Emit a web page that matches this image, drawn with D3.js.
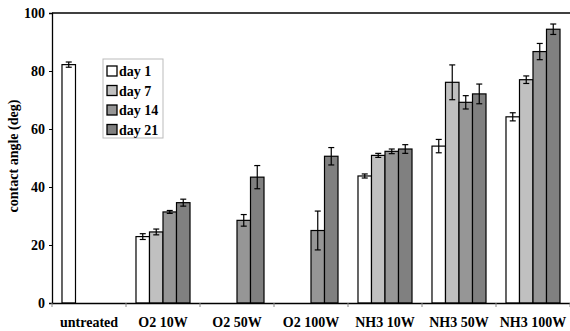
<!DOCTYPE html>
<html><head><meta charset="utf-8">
<script src="https://cdn.jsdelivr.net/npm/d3@7"></script>
<style>body{margin:0;background:#fff}svg{display:block}svg text{font-family:"Liberation Serif","Times New Roman",Times,serif !important;font-weight:bold}</style>
</head><body>
<svg id="c" width="570" height="331"></svg>
<script>
const categories = ["untreated","O2 10W","O2 50W","O2 100W","NH3 10W","NH3 50W","NH3 100W"];
const seriesNames = ["day 1","day 7","day 14","day 21"];
const day1  = [82.2, 22.9, null, null, 43.8, 54.1, 64.2];
const day7  = [null, 24.5, null, null, 50.9, 76.1, 77.0];
const day14 = [null, 31.4, 28.5, 25.0, 52.3, 69.2, 86.7];
const day21 = [null, 34.6, 43.4, 50.6, 53.1, 72.1, 94.4];
const err1  = [0.9, 1.0, null, null, 0.7, 2.3, 1.4];
const err7  = [null, 1.0, null, null, 0.7, 6.0, 1.3];
const err14 = [null, 0.5, 2.0, 6.7, 0.8, 2.3, 2.8];
const err21 = [null, 1.2, 4.0, 3.0, 1.5, 3.4, 1.8];
const yTicks = [0,20,40,60,80,100];
const colors = ["#ffffff","#c0c0c0","#969696","#808080"];

const values = [day1, day7, day14, day21];
const errs = [err1, err7, err14, err21];
const svg = d3.select("#c");
const m = {l:52, r:570, t:13, b:303};
const x = d3.scaleBand().domain(categories).range([m.l, m.r]);
const xi = d3.scaleBand().domain(seriesNames).range([0, x.bandwidth()]).paddingOuter(0.74).paddingInner(0);
const y = d3.scaleLinear().domain([0,100]).range([m.b, m.t]);

// top border
svg.append("line").attr("x1",m.l).attr("x2",m.r).attr("y1",m.t).attr("y2",m.t).attr("stroke","#000").attr("stroke-width",1.3);

// bars
const data = [];
categories.forEach((c,i)=>seriesNames.forEach((s,j)=>{
  if(values[j][i]!=null) data.push({c,s,j,v:values[j][i],e:errs[j][i]});
}));
svg.append("g").selectAll("rect").data(data).join("rect")
  .attr("x",d=>x(d.c)+xi(d.s)).attr("width",xi.bandwidth())
  .attr("y",d=>y(d.v)).attr("height",d=>y(0)-y(d.v))
  .attr("fill",d=>colors[d.j]).attr("stroke","#000").attr("stroke-width",1.2);

// error bars
const eg = svg.append("g").attr("stroke","#000").attr("stroke-width",1.2);
data.forEach(d=>{
  const cx = x(d.c)+xi(d.s)+xi.bandwidth()/2;
  eg.append("line").attr("x1",cx).attr("x2",cx).attr("y1",y(d.v+d.e)).attr("y2",y(d.v-d.e));
  [d.v+d.e,d.v-d.e].forEach(v=>eg.append("line").attr("x1",cx-3).attr("x2",cx+3).attr("y1",y(v)).attr("y2",y(v)));
});

// axes
const ya = svg.append("g").attr("transform",`translate(${m.l},0)`)
  .call(d3.axisLeft(y).tickValues(yTicks).tickSize(3).tickPadding(4));
ya.select(".domain").attr("stroke","#000").attr("stroke-width",1.3);
ya.selectAll("text").attr("font-size",14).attr("fill","#000");

const xa = svg.append("g").attr("transform",`translate(0,${m.b})`)
  .call(d3.axisBottom(x).tickSize(0).tickPadding(14));
xa.select(".domain").attr("stroke","#000").attr("stroke-width",1.3);
xa.selectAll("text").attr("font-size",14).attr("fill","#000");
// category separator ticks
svg.append("g").selectAll("line").data(categories.concat(["_end"])).join("line")
  .attr("x1",(d,i)=>m.l+i*x.bandwidth()).attr("x2",(d,i)=>m.l+i*x.bandwidth())
  .attr("y1",m.b).attr("y2",m.b+4).attr("stroke","#888").attr("stroke-width",1);

// y title
svg.append("text").attr("transform","translate(18,156) rotate(-90)").attr("text-anchor","middle")
  .attr("font-size",14).text("contact angle (deg)");

// legend
const lg = svg.append("g").attr("transform","translate(103,59)");
lg.append("rect").attr("width",60).attr("height",79).attr("fill","#fff").attr("stroke","#bbb").attr("stroke-width",1);
seriesNames.forEach((s,j)=>{
  const yy = 7 + j*19.5;
  lg.append("rect").attr("x",4).attr("y",yy).attr("width",10).attr("height",10)
    .attr("fill",colors[j]).attr("stroke","#000").attr("stroke-width",1.3);
  lg.append("text").attr("x",16).attr("y",yy+10).attr("font-size",14).text(s);
});
</script>
</body></html>
